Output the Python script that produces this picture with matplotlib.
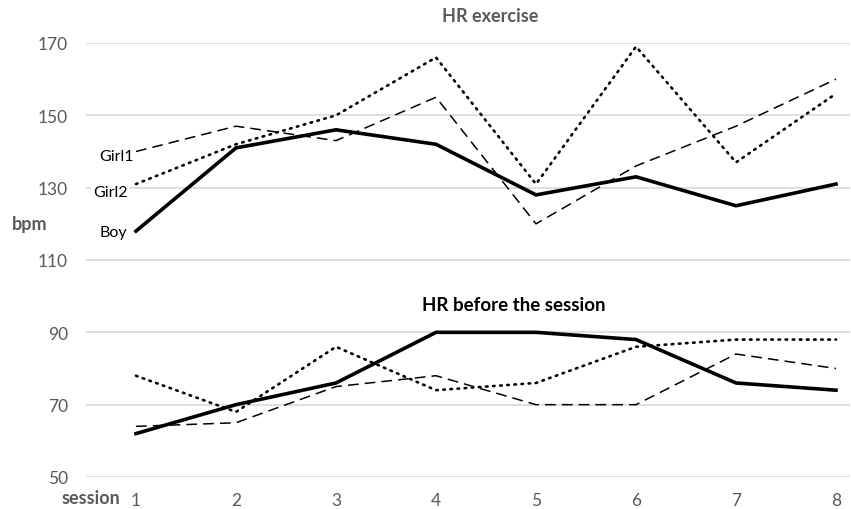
import matplotlib
matplotlib.use("Agg")
import matplotlib.pyplot as plt

sessions = [1, 2, 3, 4, 5, 6, 7, 8]
ex_boy = [118, 141, 146, 142, 128, 133, 125, 131]
ex_girl1 = [140, 147, 143, 155, 120, 136, 147, 160]
ex_girl2 = [131, 142, 150, 166, 131, 169, 137, 156]
pre_boy = [62, 70, 76, 90, 90, 88, 76, 74]
pre_girl1 = [64, 65, 75, 78, 70, 70, 84, 80]
pre_girl2 = [78, 68, 86, 74, 76, 86, 88, 88]
yticks = [50, 70, 90, 110, 130, 150, 170]
series_names = ["Girl1", "Girl2", "Boy"]

plt.rcParams['font.family'] = ['Lato', 'DejaVu Sans']

fig = plt.figure(figsize=(8.51, 5.10), dpi=100)
ax = fig.add_axes([86/851, 1-478/510, (850-86)/851, (478-44)/510])
ax.set_xlim(0.5, 8.14)
ax.set_ylim(50, 170)

gray = '#595959'
ax.set_yticks(yticks)
ax.set_xticks(sessions)
ax.grid(axis='y', color='#d9d9d9', lw=1.2, zorder=0)
ax.set_axisbelow(True)
for s in ax.spines.values():
    s.set_visible(False)
ax.tick_params(axis='both', length=0, labelsize=12.5, labelcolor=gray)
ax.tick_params(axis='y', pad=13)
ax.tick_params(axis='x', pad=11)

style_solid = dict(color='black', lw=2.6, solid_joinstyle='miter', zorder=4)
style_dash = dict(color='black', lw=1.1, dashes=(7, 4), zorder=3)
style_dot = dict(color='black', lw=1.9, dashes=(0.6, 2.1), dash_capstyle='round', zorder=3)

ax.plot(sessions, ex_girl1, **style_dash)
ax.plot(sessions, ex_girl2, **style_dot)
ax.plot(sessions, ex_boy, **style_solid)
ax.plot(sessions, pre_girl1, **style_dash)
ax.plot(sessions, pre_girl2, **style_dot)
ax.plot(sessions, pre_boy, **style_solid)

bbox = dict(facecolor='white', edgecolor='none', pad=1.5)
label_y = [ex_girl1[0] - 1.3, ex_girl2[0] - 2.2, ex_boy[0] - 0.2]
label_x = [0.975, 0.915, 0.91]
for name, lx, ly in zip(series_names, label_x, label_y):
    ax.text(lx, ly, name, ha='right', va='center', fontsize=11.5, color='black',
            bbox=bbox, zorder=5)

fig.text(490/851, 1-17/510, 'HR exercise', ha='center', va='center',
         fontsize=13, fontweight='bold', color=gray)
ax.text(4.78, 97.6, 'HR before the session', ha='center', va='center',
        fontsize=13.5, fontweight='bold', color='black')
fig.text(30/851, 1-225/510, 'bpm', ha='center', va='center',
         fontsize=13, fontweight='bold', color=gray)
fig.text(91/851, 1-499/510, 'session', ha='center', va='center',
         fontsize=13, fontweight='bold', color=gray)

fig.savefig('out.png', dpi=100)
